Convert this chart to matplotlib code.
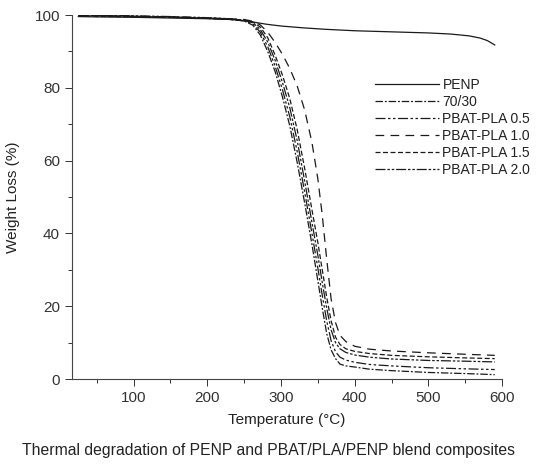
import matplotlib
matplotlib.use("Agg")
import matplotlib.pyplot as plt
from matplotlib.ticker import MultipleLocator

plt.rcParams['font.family'] = ['Liberation Sans', 'DejaVu Sans']

# ---------- data ----------
t_penp = [25, 50, 100, 150, 200, 230, 250, 265, 280, 300, 330, 360, 400, 450, 500, 530, 555, 570, 580, 590]
w_penp = [99.6, 99.5, 99.4, 99.2, 99.0, 98.8, 98.5, 98.0, 97.5, 97.0, 96.5, 96.1, 95.7, 95.4, 95.1, 94.8, 94.3, 93.7, 93.0, 91.8]

t_blend = [25, 50, 100, 150, 200, 230, 250, 262, 272, 282, 292, 302, 312, 322, 332, 342,
           350, 356, 362, 368, 374, 380, 388, 400, 420, 450, 500, 550, 590]

w_7030 = [100.0, 99.9, 99.7, 99.5, 99.2, 98.9, 98.4, 97.2, 94.5, 90.0, 84.5, 77.5, 69.5, 59.5, 48.5, 37.0,
          27.0, 19.5, 12.5, 8.0, 5.6, 4.1, 3.6, 3.3, 2.7, 2.3, 1.8, 1.5, 1.2]
w_pp05 = [99.9, 99.8, 99.6, 99.4, 99.1, 98.8, 98.4, 97.5, 95.3, 91.3, 86.0, 79.5, 72.0, 62.5, 51.5, 40.0,
          30.5, 23.0, 16.0, 10.5, 7.5, 6.0, 5.2, 4.6, 4.0, 3.6, 3.1, 2.8, 2.6]
w_pp10 = [99.9, 99.8, 99.7, 99.5, 99.2, 99.0, 98.8, 98.3, 97.3, 95.3, 92.5, 89.2, 85.3, 80.5, 74.0, 65.0,
          55.0, 45.0, 33.0, 22.0, 15.5, 12.0, 10.3, 9.0, 8.2, 7.7, 7.2, 6.8, 6.5]
w_pp15 = [99.8, 99.7, 99.5, 99.4, 99.1, 98.9, 98.6, 98.1, 96.7, 93.8, 89.0, 83.5, 77.0, 68.5, 58.0, 46.5,
          37.5, 30.0, 22.5, 16.0, 11.5, 9.5, 8.3, 7.6, 7.0, 6.5, 6.1, 5.8, 5.6]
w_pp20 = [100.1, 100.0, 99.8, 99.6, 99.3, 99.0, 98.6, 97.9, 96.0, 92.6, 87.6, 81.5, 74.5, 65.5, 54.5, 43.0,
          34.0, 26.5, 19.5, 13.5, 10.0, 8.3, 7.3, 6.6, 6.0, 5.5, 5.1, 4.9, 4.7]

labels = ['PENP', '70/30', 'PBAT-PLA 0.5', 'PBAT-PLA 1.0', 'PBAT-PLA 1.5', 'PBAT-PLA 2.0']
styles = ['-',
          (0, (6, 1.5, 1.5, 1.5)),
          (0, (8, 2, 2, 2, 2, 2)),
          (0, (7, 5)),
          (0, (4, 2)),
          (0, (8, 1.5, 2, 1.5, 2, 1.5))]

# ---------- figure ----------
fig = plt.figure(figsize=(5.37, 4.72), dpi=100)
ax = fig.add_axes([0.1335, 0.197, 0.8015, 0.771])

col = '#1a1a1a'
series = [(t_penp, w_penp), (t_blend, w_7030), (t_blend, w_pp05),
          (t_blend, w_pp10), (t_blend, w_pp15), (t_blend, w_pp20)]
for (t, w), lab, ls in zip(series, labels, styles):
    ax.plot(t, w, color=col, lw=0.9, linestyle=ls, label=lab)

ax.set_xlim(16, 600)
ax.set_ylim(0, 100)
ax.xaxis.set_major_locator(MultipleLocator(100))
ax.xaxis.set_minor_locator(MultipleLocator(50))
ax.yaxis.set_major_locator(MultipleLocator(20))
ax.yaxis.set_minor_locator(MultipleLocator(10))
ax.tick_params(which='major', direction='out', length=5, width=0.7, labelsize=11, colors='#333')
ax.tick_params(which='minor', direction='out', length=3, width=0.7, colors='#333')
for s in ['top', 'right']:
    ax.spines[s].set_visible(False)
for s in ['left', 'bottom']:
    ax.spines[s].set_color('#444')
    ax.spines[s].set_linewidth(0.8)

ax.set_xlabel('Temperature (°C)', fontsize=11, color='#222', labelpad=6)
ax.set_ylabel('Weight Loss (%)', fontsize=11, color='#222', labelpad=10)

leg = ax.legend(loc='upper left', bbox_to_anchor=(0.705, 0.827), frameon=False,
                handlelength=4.6, handletextpad=0.25, labelspacing=0.22, fontsize=10,
                borderpad=0, borderaxespad=0)
for t in leg.get_texts():
    t.set_color('#222')

fig.text(0.5, 0.045, 'Thermal degradation of PENP and PBAT/PLA/PENP blend composites',
         ha='center', va='center', fontsize=11.3, color='#222')

fig.savefig('out.png', dpi=100)
